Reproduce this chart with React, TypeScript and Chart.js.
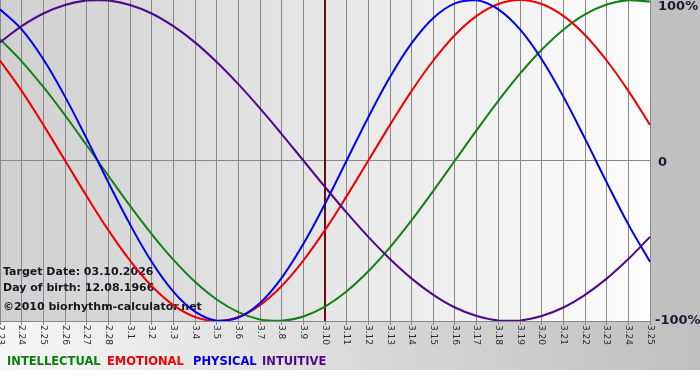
import React, { useEffect, useRef } from "react";
import { Chart, registerables } from "chart.js";

Chart.register(...registerables);

const dayLabels = [
  "2.23", "2.24", "2.25", "2.26", "2.27", "2.28",
  "3.1", "3.2", "3.3", "3.4", "3.5", "3.6", "3.7", "3.8", "3.9", "3.10",
  "3.11", "3.12", "3.13", "3.14", "3.15", "3.16", "3.17", "3.18", "3.19", "3.20",
  "3.21", "3.22", "3.23", "3.24", "3.25",
];

const intellectual = [75.6, 61.8, 45.8, 28.2, 9.5, -9.5, -28.2, -45.8, -61.8, -75.6, -86.6, -94.5, -99.0, -99.9, -97.2, -91.0, -81.5, -69.0, -54.1, -37.2, -18.9, 0, 18.9, 37.2, 54.1, 69.0, 81.5, 91.0, 97.2, 99.9, 99.0];
const emotional = [62.3, 43.4, 22.2, 0, -22.2, -43.4, -62.3, -78.2, -90.1, -97.5, -100, -97.5, -90.1, -78.2, -62.3, -43.4, -22.2, 0, 22.2, 43.4, 62.3, 78.2, 90.1, 97.5, 100, 97.5, 90.1, 78.2, 62.3, 43.4, 22.2];
const physical = [94.2, 81.7, 63.1, 39.8, 13.6, -13.6, -39.8, -63.1, -81.7, -94.2, -99.8, -97.9, -88.8, -73.1, -52.0, -27.0, 0, 27.0, 52.0, 73.1, 88.8, 97.9, 99.8, 94.2, 81.7, 63.1, 39.8, 13.6, -13.6, -39.8, -63.1];
const intuitive = [73.6, 83.7, 91.6, 96.9, 99.7, 99.7, 96.9, 91.6, 83.7, 73.6, 61.4, 47.6, 32.5, 16.5, 0, -16.5, -32.5, -47.6, -61.4, -73.6, -83.7, -91.6, -96.9, -99.7, -99.7, -96.9, -91.6, -83.7, -73.6, -61.4, -47.6];

const yTickValues = [100, 0, -100];
const yTickLabels = ["100%", "0", "-100%"];
const targetIndex = 15;

const infoLines = ["Target Date: 03.10.2026", "Day of birth: 12.08.1966", "\u00a92010 biorhythm-calculator.net"];
const legendNames = ["INTELLECTUAL", "EMOTIONAL", "PHYSICAL", "INTUITIVE"];
const legendColors = ["#0a7d0a", "#ee0000", "#0000dd", "#4a0a85"];
const legendX = [7, 107, 193, 262];
const lineColors = ["#138013", "#ee0000", "#0000ee", "#4b0a88"];

const FONT = '"DejaVu Sans", Verdana, sans-serif';

const decorPlugin = {
  id: "decor",
  beforeDraw(chart: any) {
    const { ctx, chartArea, width, height } = chart;
    ctx.save();
    ctx.fillStyle = "#ffffff";
    ctx.fillRect(0, 0, width, height);
    const gb = ctx.createLinearGradient(0, 0, width, 0);
    gb.addColorStop(0, "#f6f6f6");
    gb.addColorStop(1, "#bfbfbf");
    ctx.fillStyle = gb;
    ctx.fillRect(0, chartArea.bottom, width, 370 - chartArea.bottom);
    ctx.fillStyle = "#c0c0c0";
    ctx.fillRect(chartArea.right, 0, width - chartArea.right, chartArea.bottom);
    const g = ctx.createLinearGradient(chartArea.left, 0, chartArea.right, 0);
    g.addColorStop(0, "#d0d0d0");
    g.addColorStop(1, "#fdfdfd");
    ctx.fillStyle = g;
    ctx.fillRect(chartArea.left, chartArea.top, chartArea.right - chartArea.left, chartArea.bottom - chartArea.top);
    ctx.restore();
  },
  beforeDatasetsDraw(chart: any) {
    const { ctx, chartArea, scales } = chart;
    ctx.save();
    const tx = Math.round(scales.x.getPixelForValue(targetIndex));
    ctx.strokeStyle = "#6e0a0a";
    ctx.lineWidth = 2;
    ctx.beginPath();
    ctx.moveTo(tx, chartArea.top);
    ctx.lineTo(tx, chartArea.bottom);
    ctx.stroke();
    ctx.fillStyle = "#151520";
    ctx.font = "bold 11px " + FONT;
    ctx.textBaseline = "middle";
    ctx.textAlign = "left";
    ctx.fillText(infoLines[0], 3, 272);
    ctx.fillText(infoLines[1], 3, 288);
    ctx.fillText(infoLines[2], 3, 307);
    ctx.restore();
  },
  afterDraw(chart: any) {
    const { ctx, chartArea, scales } = chart;
    ctx.save();
    ctx.fillStyle = "#2a2a2a";
    ctx.font = "9px " + FONT;
    ctx.textBaseline = "middle";
    ctx.textAlign = "left";
    dayLabels.forEach((lab, i) => {
      const x = scales.x.getPixelForValue(i);
      ctx.save();
      ctx.translate(x, chartArea.bottom + 4);
      ctx.rotate(Math.PI / 2);
      ctx.fillText(lab, 0, 0);
      ctx.restore();
    });
    ctx.fillStyle = "#1a1a30";
    ctx.font = "bold 13px " + FONT;
    yTickValues.forEach((v, i) => {
      let y = scales.y.getPixelForValue(v);
      if (v === 100) y += 7;
      if (v === 0) y += 2;
      const x = v < 0 ? chartArea.right + 5 : chartArea.right + 8;
      ctx.fillText(yTickLabels[i], x, y);
    });
    ctx.font = "bold 11.5px " + FONT;
    legendNames.forEach((n, i) => {
      ctx.fillStyle = legendColors[i];
      ctx.fillText(n, legendX[i], 362);
    });
    ctx.restore();
  },
};

export default function App() {
  const ref = useRef<HTMLCanvasElement | null>(null);
  useEffect(() => {
    if (!ref.current) return;
    const mk = (label: string, data: number[], color: string) => ({
      label,
      data,
      borderColor: color,
      backgroundColor: color,
      borderWidth: 2,
      pointRadius: 0,
      tension: 0.4,
      fill: false,
    });
    const chart = new Chart(ref.current, {
      type: "line",
      data: {
        labels: dayLabels,
        datasets: [
          mk("INTUITIVE", intuitive, lineColors[3]),
          mk("PHYSICAL", physical, lineColors[2]),
          mk("EMOTIONAL", emotional, lineColors[1]),
          mk("INTELLECTUAL", intellectual, lineColors[0]),
        ],
      },
      options: {
        responsive: false,
        animation: false,
        layout: { padding: 0 },
        plugins: { legend: { display: false }, tooltip: { enabled: false } },
        scales: {
          x: {
            type: "category",
            offset: false,
            grid: { color: "#888888", lineWidth: 1, drawTicks: true, tickLength: 4, offset: false },
            border: { display: true, color: "#888888" },
            ticks: { display: false, autoSkip: false },
            afterFit: (s: any) => { s.height = 59; },
          },
          y: {
            position: "right",
            min: -100,
            max: 100,
            ticks: { display: false, stepSize: 100 },
            grid: {
              color: (c: any) => (c.tick && c.tick.value === 0 ? "#888888" : "rgba(0,0,0,0)"),
              drawTicks: false,
            },
            border: { display: false },
            afterFit: (s: any) => { s.width = 50; },
          },
        },
      } as any,
      plugins: [decorPlugin],
    });
    return () => chart.destroy();
  }, []);
  return (
    <div style={{ position: "fixed", left: 0, top: 0, width: 700, height: 380, background: "#fff" }}>
      <canvas ref={ref} width={700} height={380} style={{ display: "block" }} />
    </div>
  );
}
